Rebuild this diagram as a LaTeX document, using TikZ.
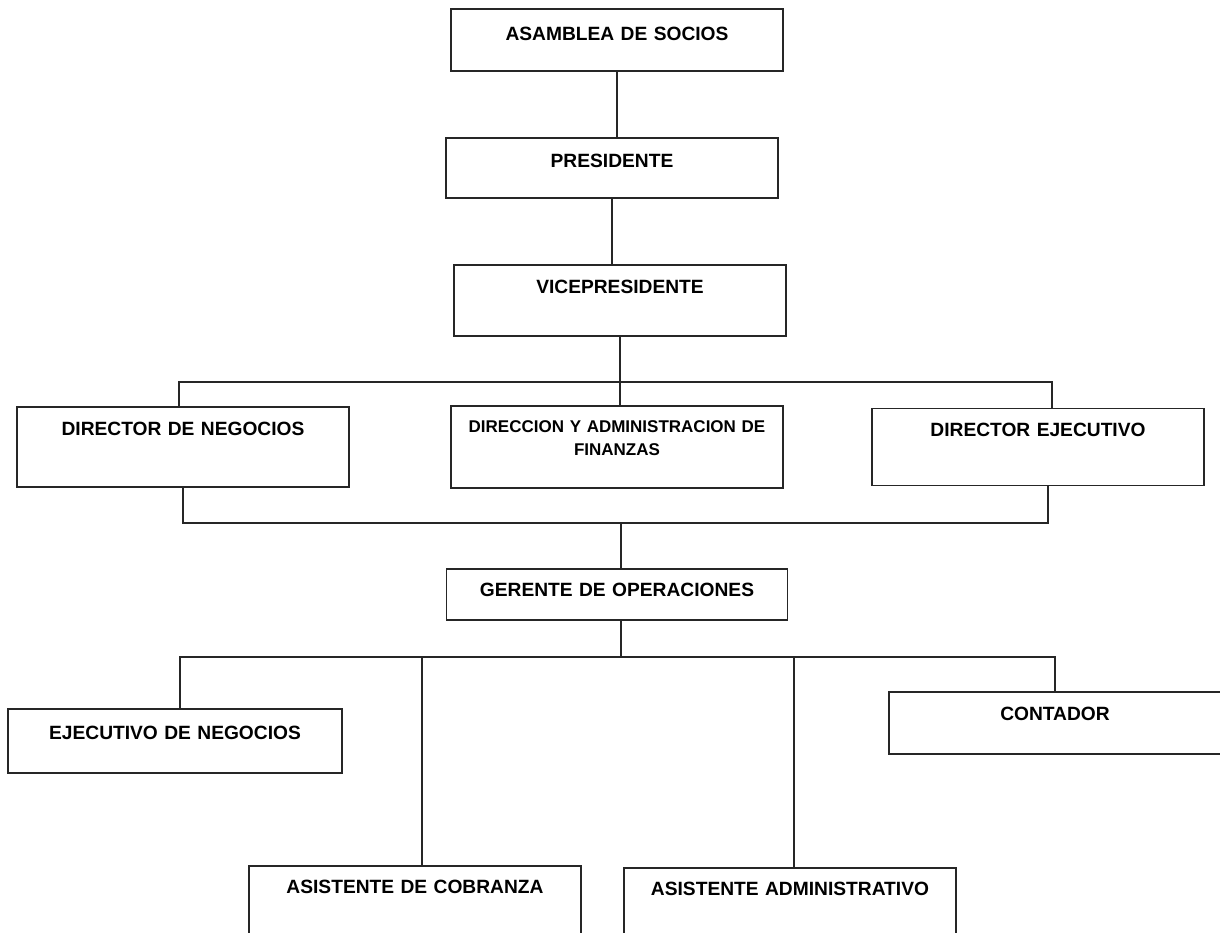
\documentclass[tikz,border=0pt]{standalone}
\usepackage{fontspec}
\setmainfont{Liberation Sans}
\usepackage{tikz}
\usetikzlibrary{positioning}
\tikzset{
  cargo/.style={rectangle, draw=black!85, line width=0.9pt, inner sep=0pt, outer sep=0pt,
                text width=166pt, align=center,
                font=\bfseries\fontsize{9.6}{11.5}\selectfont},
  enlace/.style={draw=black!85, line width=0.75pt},
}

\begin{document}
\begin{tikzpicture}[x=0.5pt, y=-0.5pt]
    \useasboundingbox (0,0) rectangle (1220,932);

    % columna central
    \node[cargo, anchor=north, text height=15.5pt, text depth=15.5pt] (asamblea) at (617,9) {ASAMBLEA DE SOCIOS};
    \node[cargo, below=33.5pt of asamblea, xshift=-2.5pt, text height=14.5pt, text depth=15.5pt] (presidente) {PRESIDENTE};
    \node[cargo, below=33.5pt of presidente, xshift=4pt, text height=14pt, text depth=21.5pt] (vice) {VICEPRESIDENTE};
    \node[cargo, below=35pt of vice, xshift=-1.5pt, text height=13pt, text depth=28pt,
          font=\bfseries\fontsize{8.5}{11.5}\selectfont] (finanzas) {DIRECCION Y ADMINISTRACION DE\\FINANZAS};
    \node[cargo, left=51pt of finanzas, text height=14pt, text depth=26pt] (dirnegocios) {DIRECTOR DE NEGOCIOS};
    \node[cargo, right=44.5pt of finanzas, text height=14pt, text depth=24.5pt] (direjecutivo) {DIRECTOR EJECUTIVO};
    \node[cargo, below=40.5pt of finanzas, text width=170.5pt, text height=13.5pt, text depth=12pt] (gerente) {GERENTE DE OPERACIONES};

    % segundo nivel
    \node[cargo, anchor=north, text width=167pt, text height=15pt, text depth=17pt] (ejecutivo) at (175,709) {EJECUTIVO DE NEGOCIOS};
    \node[cargo, anchor=north, text height=14pt, text depth=17pt] (contador) at (1055,692) {CONTADOR};
    \node[cargo, anchor=north, text height=13.5pt, text depth=26.5pt] (cobranza) at (415,866) {ASISTENTE DE COBRANZA};
    \node[cargo, anchor=north, text height=13.5pt, text depth=26.5pt] (administrativo) at (790,868) {ASISTENTE ADMINISTRATIVO};

    \coordinate (barra) at (0,657);

    \draw[enlace] (asamblea.south) -- (asamblea.south |- presidente.north);
    \draw[enlace] (presidente.south) -- (presidente.south |- vice.north);
    \draw[enlace] (vice.south) -- (vice.south |- finanzas.north);
    \draw[enlace] ([xshift=-2pt]dirnegocios.north) -- ++(0,-25) -| ([xshift=7pt]direjecutivo.north);
    \draw[enlace] (dirnegocios.south) -- ++(0,36) -| ([xshift=5pt]direjecutivo.south);
    \draw[enlace] ([xshift=2pt]gerente.north) -- ++(0,-47);
    \draw[enlace] ([xshift=2pt]gerente.south) -- ([xshift=2pt]gerente.south |- barra);
    \draw[enlace] ([xshift=2.5pt]ejecutivo.north) |- (barra -| contador.north) -- (contador.north);
    \draw[enlace] ([xshift=3.5pt]cobranza.north) -- ([xshift=3.5pt]cobranza.north |- barra);
    \draw[enlace] ([xshift=2pt]administrativo.north) -- ([xshift=2pt]administrativo.north |- barra);
\end{tikzpicture}
\end{document}
